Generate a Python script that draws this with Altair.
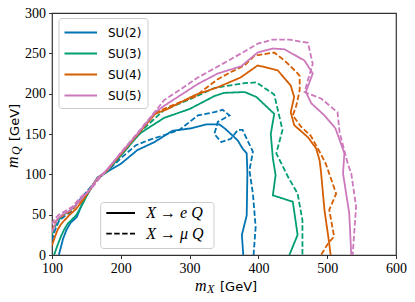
import altair as alt
import pandas as pd

groups = ["SU(2)", "SU(3)", "SU(4)", "SU(5)"]
colors = ["#0173b2", "#029e73", "#d55e00", "#cc78bc"]
decay_keys = ["e", "mu"]
decay_labels = ["X → e Q", "X → μ Q"]
x_ticks = [100, 200, 300, 400, 500, 600]
y_ticks = [0, 50, 100, 150, 200, 250, 300]

# SU(2)
su2_e_x = [110, 116, 121, 127, 136, 146, 152, 166, 178, 200, 224, 249, 275, 302, 324, 343, 351, 360, 370, 377, 383, 384, 383, 376, 378]
su2_e_y = [0, 20, 31, 40, 47, 68, 76, 96, 102, 113, 130, 140, 154, 157, 162, 162, 157, 150, 142, 132, 126, 101, 49, 25, 0]
su2_mu_x = [100, 104, 110, 118, 128, 140, 150, 166, 178, 200, 222, 239, 268, 285, 300, 312, 336, 348, 358, 341, 336, 346, 360, 370, 377, 392, 387, 392, 396, 393]
su2_mu_y = [18, 30, 42, 48, 54, 68, 78, 94, 102, 120, 136, 142, 150, 155, 165, 173, 177, 180, 173, 165, 150, 140, 144, 155, 155, 128, 105, 76, 35, 0]
# SU(3)
su3_e_x = [103, 108, 113, 118, 123, 135, 145, 152, 166, 178, 200, 225, 230, 263, 300, 336, 350, 380, 397, 423, 418, 421, 425, 421, 450, 457, 445]
su3_e_y = [0, 12, 23, 32, 39, 49, 64, 76, 95, 102, 123, 148, 152, 170, 181, 197, 201, 202, 196, 175, 150, 120, 99, 74, 66, 25, 0]
su3_mu_x = [100, 106, 112, 120, 130, 142, 152, 166, 178, 200, 225, 230, 263, 300, 336, 350, 380, 397, 423, 435, 426, 443, 457, 464, 464]
su3_mu_y = [25, 38, 46, 52, 58, 70, 78, 95, 103, 125, 150, 154, 180, 193, 207, 209, 213, 214, 199, 155, 126, 97, 76, 43, 0]
# SU(4)
su4_e_x = [100, 104, 108, 113, 118, 126, 135, 145, 152, 166, 178, 200, 225, 250, 268, 307, 341, 374, 399, 428, 447, 452, 447, 452, 472, 484, 489, 491, 496, 503, 505]
su4_e_y = [12, 22, 31, 38, 43, 50, 57, 68, 77, 95, 103, 125, 150, 175, 181, 198, 208, 220, 235, 229, 210, 196, 177, 161, 146, 132, 117, 103, 56, 14, 0]
su4_mu_x = [100, 104, 110, 118, 128, 140, 152, 166, 178, 200, 225, 250, 273, 307, 341, 363, 380, 394, 423, 438, 455, 460, 460, 455, 450, 462, 476, 489, 498, 513, 503, 510, 501, 491]
su4_mu_y = [30, 40, 46, 50, 55, 66, 77, 95, 103, 125, 150, 176, 185, 196, 218, 228, 235, 247, 251, 241, 227, 222, 204, 185, 173, 159, 148, 128, 113, 76, 56, 23, 14, 0]
# SU(5)
su5_e_x = [100, 104, 108, 115, 125, 135, 145, 152, 166, 178, 200, 225, 250, 263, 312, 341, 375, 399, 421, 438, 467, 479, 469, 477, 496, 512, 525, 523, 532, 535]
su5_e_y = [28, 37, 45, 50, 55, 62, 72, 78, 95, 104, 126, 151, 177, 185, 212, 225, 234, 251, 256, 255, 241, 225, 202, 188, 173, 157, 126, 101, 52, 0]
su5_mu_x = [100, 104, 110, 118, 130, 142, 157, 170, 180, 200, 225, 250, 263, 288, 312, 346, 375, 399, 421, 445, 472, 479, 467, 491, 515, 518, 530, 535, 542, 537]
su5_mu_y = [38, 45, 50, 54, 60, 72, 82, 96, 105, 127, 152, 178, 192, 206, 220, 236, 250, 262, 267, 267, 263, 237, 202, 194, 177, 152, 113, 101, 60, 0]

curves = [
    ("SU(2)", "e", su2_e_x, su2_e_y), ("SU(2)", "mu", su2_mu_x, su2_mu_y),
    ("SU(3)", "e", su3_e_x, su3_e_y), ("SU(3)", "mu", su3_mu_x, su3_mu_y),
    ("SU(4)", "e", su4_e_x, su4_e_y), ("SU(4)", "mu", su4_mu_x, su4_mu_y),
    ("SU(5)", "e", su5_e_x, su5_e_y), ("SU(5)", "mu", su5_mu_x, su5_mu_y),
]
rows = []
for g, d, xs, ys in curves:
    for i, (a, b) in enumerate(zip(xs, ys)):
        rows.append({"group": g, "decay": d, "i": i, "mx": a, "mq": b})
df = pd.DataFrame(rows)

color_scale = alt.Scale(domain=groups, range=colors)
dash_scale = alt.Scale(domain=decay_keys, range=[[1, 0], [5.5, 2.4]])

lines = alt.Chart(df).mark_line(strokeWidth=1.8, clip=True).encode(
    x=alt.X("mx:Q", scale=alt.Scale(domain=[100, 600], nice=False, zero=False),
            axis=alt.Axis(values=x_ticks, title=None, format="d")),
    y=alt.Y("mq:Q", scale=alt.Scale(domain=[0, 300], nice=False),
            axis=alt.Axis(values=y_ticks, title=None, format="d")),
    color=alt.Color("group:N", scale=color_scale, legend=None),
    strokeDash=alt.StrokeDash("decay:N", scale=dash_scale, legend=None),
    detail="decay:N",
    order=alt.Order("i:Q"),
)

one = pd.DataFrame({"a": [0]})

# legend 1 (colours)
leg1 = pd.DataFrame({"group": groups, "k": list(range(len(groups)))})
box1 = alt.Chart(one).mark_rect(fill="white", fillOpacity=0.85, stroke="#cccccc",
                                strokeWidth=1, cornerRadius=3).encode(
    x=alt.value(7), x2=alt.value(96), y=alt.value(5.5), y2=alt.value(95.5))
sym1 = alt.Chart(leg1).transform_calculate(py="19.5 + datum.k * 21").mark_rule(strokeWidth=1.8).encode(
    x=alt.value(12.5), x2=alt.value(45),
    y=alt.Y("py:Q", scale=None, axis=None),
    color=alt.Color("group:N", scale=color_scale, legend=None))
lab1 = alt.Chart(leg1).transform_calculate(py="19.5 + datum.k * 21").mark_text(
    align="left", baseline="middle", font="DejaVu Sans", fontSize=12, color="black").encode(
    x=alt.value(56), y=alt.Y("py:Q", scale=None, axis=None), text="group:N")

# legend 2 (line styles)
leg2 = pd.DataFrame({"decay": decay_keys, "label": decay_labels, "k": [0, 1]})
box2 = alt.Chart(one).mark_rect(fill="white", fillOpacity=0.85, stroke="#cccccc",
                                strokeWidth=1, cornerRadius=3).encode(
    x=alt.value(48.7), x2=alt.value(162), y=alt.value(189.5), y2=alt.value(235.5))
sym2 = alt.Chart(leg2).transform_calculate(py="200 + datum.k * 20.6").mark_rule(
    strokeWidth=1.8, color="black").encode(
    x=alt.value(54.3), x2=alt.value(83),
    y=alt.Y("py:Q", scale=None, axis=None),
    strokeDash=alt.StrokeDash("decay:N", scale=dash_scale, legend=None))
lab2 = alt.Chart(leg2).transform_calculate(py="200 + datum.k * 20.6").mark_text(
    align="left", baseline="middle", font="Liberation Serif", fontStyle="italic",
    fontSize=16, color="black").encode(
    x=alt.value(94.3), y=alt.Y("py:Q", scale=None, axis=None), text="label:N")

# axis titles
def txt(t, x, y, font, size, style="normal", angle=0):
    kw = dict(text=t, align="left", baseline="alphabetic", font=font, fontSize=size,
              fontStyle=style, color="black")
    if angle:
        kw["angle"] = angle
    return alt.Chart(one).mark_text(**kw).encode(x=alt.value(x), y=alt.value(y))

xt = [
    txt("m", 143, 278, "Liberation Serif", 16, "italic"),
    txt("X", 155, 280, "Liberation Serif", 12, "italic"),
    txt("[GeV]", 168, 278, "DejaVu Sans", 13),
]
yt = [
    txt("m", -34.5, 155, "Liberation Serif", 16, "italic", 270),
    txt("Q", -32, 142, "Liberation Serif", 12, "italic", 270),
    txt("[GeV]", -33.5, 128, "DejaVu Sans", 13, angle=270),
]

chart = alt.layer(lines, box1, sym1, lab1, box2, sym2, lab2, *xt, *yt).properties(
    width=344, height=242,
    autosize=alt.AutoSizeParams(type="none"),
    padding={"left": 44, "top": 5, "right": 11, "bottom": 39},
).configure_view(stroke="#333333", strokeWidth=1.2).configure_axis(
    labelFont="Liberation Serif", labelFontSize=14, labelColor="black",
    tickColor="#333333", tickSize=3.5, tickWidth=1, domain=False, grid=False,
    labelPadding=3, labelFlush=False, labelOverlap=False,
)

chart.save("out.html", embed_options={"renderer": "svg", "actions": False})
